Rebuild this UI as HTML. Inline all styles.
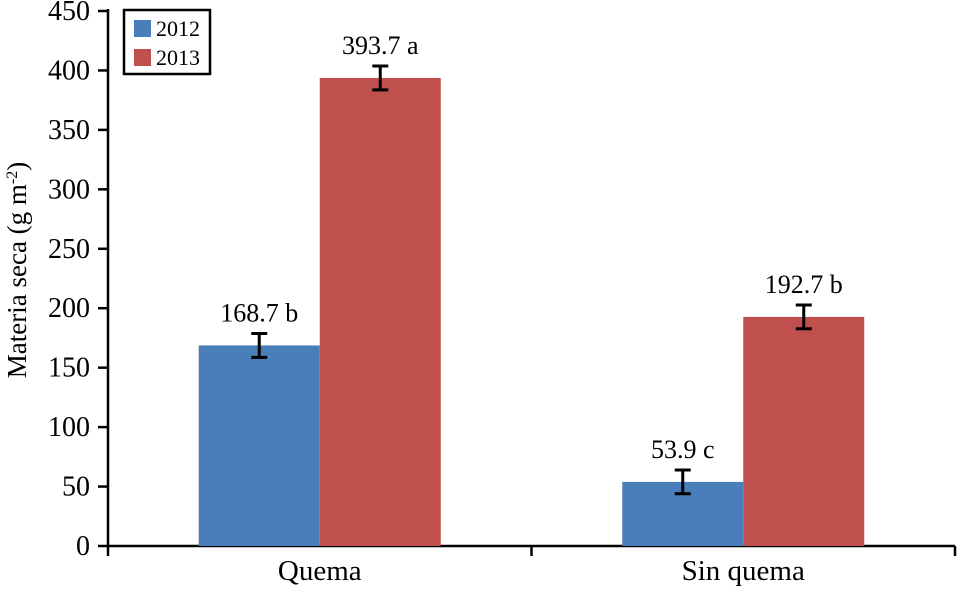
<!DOCTYPE html>
<html><head><meta charset="utf-8"><style>
body{margin:0;background:#fff}
svg, svg text{font-family:"Liberation Serif","DejaVu Serif",serif}
</style></head><body>
<svg width="959" height="587" font-family="Liberation Serif, serif">
<g id="axes"></g><g id="bars"></g>
<g>
<rect x="124" y="10" width="86" height="64" fill="#fff" stroke="#000" stroke-width="2.5"/>
<rect x="134" y="20" width="17" height="17" fill="#4a7ebb"/>
<text x="156" y="36" font-size="22" font-family="Liberation Serif, serif">2012</text>
<rect x="134" y="49" width="17" height="17" fill="#c0504d"/>
<text x="156" y="65" font-size="22" font-family="Liberation Serif, serif">2013</text>
</g>
<text transform="translate(26,270) rotate(-90)" text-anchor="middle" font-size="27" font-family="Liberation Serif, serif">Materia seca (g m<tspan dy="-9" font-size="16">-2</tspan><tspan dy="9">)</tspan></text>
</svg>
<script>
const categories=["Quema","Sin quema"];
const series2012=[168.7,53.9];
const series2013=[393.7,192.7];
const err2012=[10,10];
const err2013=[10,10];
const labels2012=["168.7 b","53.9 c"];
const labels2013=["393.7 a","192.7 b"];
const yTicks=[0,50,100,150,200,250,300,350,400,450];
const NS="http://www.w3.org/2000/svg";
const x0=108,x1=955,y0=546,yMax=450,yTop=11;
const y=v=>y0-(v/yMax)*(y0-yTop);
const catW=(x1-x0)/categories.length;
function mk(tag,attrs,parent){const e=document.createElementNS(NS,tag);for(const k in attrs)e.setAttribute(k,attrs[k]);if(tag==='text')e.setAttribute('font-family','Liberation Serif, serif');parent.appendChild(e);return e;}
const ax=document.getElementById('axes'),bg=document.getElementById('bars');
let e=mk('line',{x1:x0,y1:yTop-2,x2:x0,y2:y0,stroke:'#000','stroke-width':2.5},ax);


e=mk('line',{x1:x0,y1:y0,x2:x1,y2:y0,stroke:'#000','stroke-width':2.5},ax);


yTicks.forEach(t=>{
 e=mk('line',{x1:x0-10,y1:y(t),x2:x0,y2:y(t),stroke:'#000','stroke-width':2.5},ax);
 
 
 e=mk('text',{x:x0-18,y:y(t)+9,'text-anchor':'end','font-size':28},ax);e.textContent=t;
 
 
});
for(let i=0;i<=categories.length;i++){
 e=mk('line',{x1:x0+i*catW,y1:y0,x2:x0+i*catW,y2:y0+10,stroke:'#000','stroke-width':2.5},ax);
 
 
}
const bw=121;
categories.forEach((c,i)=>{
 const cx=x0+catW*(i+0.5);
 e=mk('text',{x:cx,y:580,'text-anchor':'middle','font-size':29},ax);e.textContent=c;
 
 
 [[series2012,err2012,labels2012,'#4a7ebb','2012',cx-bw],[series2013,err2013,labels2013,'#c0504d','2013',cx]].forEach(([s,er,lb,col,yr,bx])=>{
  const v=s[i];
  e=mk('rect',{x:bx,y:y(v),width:bw,height:y0-y(v),fill:col},bg);
  
  
  const mx=bx+bw/2;
  e=mk('path',{d:`M${mx},${y(v+er[i])}V${y(v-er[i])}M${mx-8},${y(v+er[i])}H${mx+8}M${mx-8},${y(v-er[i])}H${mx+8}`,stroke:'#000','stroke-width':3,fill:'none'},bg);
  
  
  e=mk('text',{x:mx,y:y(v+er[i])-12,'text-anchor':'middle','font-size':26},bg);e.textContent=lb[i];
  
  
 });
});
</script>
</body></html>
